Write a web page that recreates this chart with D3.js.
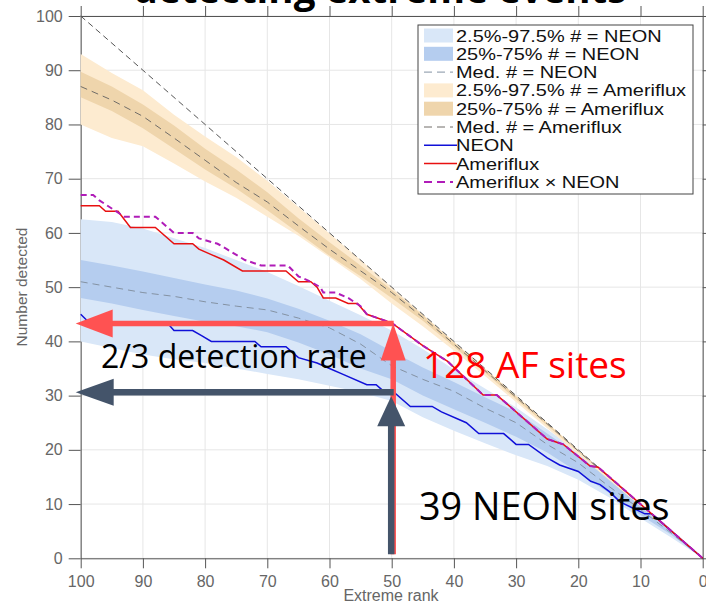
<!DOCTYPE html>
<html>
<head>
<meta charset="utf-8">
<script src="https://cdn.jsdelivr.net/npm/d3@7"></script>
<style>
	body { margin: 0; background: #fff; }
	svg { display: block; }
	.axis path, .axis line { stroke: #555; }
	.axis text { fill: #666; font-family: "Liberation Sans", Arial, sans-serif; font-size: 16px; }
	.grid line { stroke: #e6e6e6; }
	.legend text { font-family: "Liberation Sans", Arial, sans-serif; font-size: 16.5px; fill: #111; }
	.note { font-family: "Open Sans", sans-serif; }
</style>
</head>
<body>
<svg id="chart" width="706" height="603"></svg>
<script>
var xTicks = [100, 90, 80, 70, 60, 50, 40, 30, 20, 10, 0];
var yTicks = [0, 10, 20, 30, 40, 50, 60, 70, 80, 90, 100];

// percentile bands, sampled every 5 ranks
var bandRanks = [100, 95, 90, 85, 80, 75, 70, 65, 60, 55, 50, 45, 40, 35, 30, 25, 20, 15, 10, 5, 0];
var neonLo95 = [40, 38.8, 37.6, 36.7, 36, 35, 34, 33, 31.8, 30.6, 29, 26, 23.5, 21.2, 19, 17, 14.5, 11.2, 7.4, 3.8, 0];
var neonHi95 = [62.5, 62, 60.8, 59, 57.2, 55, 52.8, 50.2, 47.5, 44.8, 42, 38.6, 34.8, 31.3, 27.8, 23.8, 19.6, 14.9, 9.95, 5, 0];
var neonLo50 = [48, 47, 45.8, 44.7, 43.6, 42.8, 41.7, 39.8, 37.6, 35, 33, 30, 27.5, 25, 22.4, 19.5, 15.8, 12, 8, 4.3, 0];
var neonHi50 = [55, 54, 52.9, 51.7, 50.5, 49.4, 47.9, 46, 43.8, 41.3, 38.2, 35.2, 32.5, 29.7, 27, 23, 19, 14.6, 9.7, 4.9, 0];
var neonMed = [51, 50, 49, 48.3, 47.3, 46.5, 45.8, 44.3, 42.5, 39.5, 35.5, 33, 30.8, 27.7, 25, 21, 17.6, 13.2, 9, 4.6, 0];
var afLo95 = [80, 77.5, 76, 72.8, 69.5, 66.5, 63, 59.5, 55.5, 51.5, 47, 42.8, 38.3, 33.6, 28.8, 24, 19.2, 14.4, 9.6, 4.8, 0];
var afHi95 = [93, 89.5, 86.3, 81.8, 77.8, 74, 69.6, 64.8, 59.9, 55, 50, 45, 40, 35, 30, 25, 20, 15, 10, 5, 0];
var afLo50 = [85, 82.5, 79.3, 75.5, 71.7, 68.2, 64.2, 60, 55.8, 52, 48, 43.8, 39, 34.2, 29.3, 24.5, 19.6, 14.7, 9.8, 4.9, 0];
var afHi50 = [89.7, 87, 83.7, 79.8, 75.5, 71.7, 67.5, 62.7, 58.3, 54, 49.5, 44.8, 39.8, 34.9, 29.9, 24.9, 19.9, 14.95, 10, 5, 0];
var afMed = [87, 84.5, 81.5, 77.5, 73.4, 69.3, 65.7, 61.3, 57, 53, 49, 44.4, 39.5, 34.6, 29.7, 24.8, 19.8, 14.9, 9.9, 4.95, 0];

// observed detections
var neonRank = [100, 98.5, 86, 85, 82, 80.5, 79, 72, 71, 67, 65, 62, 60, 58, 54, 52.5, 51.5, 50, 47, 43.5, 42, 38, 36, 32, 30, 28, 25, 23, 20, 18, 16.5, 15, 13.3, 9.3, 8.2, 0];
var neonHits = [45, 43.3, 43.3, 42, 42, 41, 40, 40, 39, 39, 37, 36, 35, 34, 32, 32, 31, 31, 28, 28, 27, 25, 23, 23, 21, 21, 18.5, 17.2, 16, 14.2, 13.6, 12.3, 10.4, 8.2, 8.2, 0];
var afRank = [100, 97, 96, 94, 92, 88, 85, 82, 81, 79, 77, 74, 67, 65, 63, 62, 61, 59, 57, 55.5, 54, 51.5, 50, 45, 41, 35.3, 33.1, 25, 22.4, 18.1, 16.8, 0];
var afHits = [65, 65, 64, 64, 61, 61, 58, 58, 57, 56, 55, 53, 53, 51, 51, 50, 48, 48, 47, 47, 45, 44, 43.4, 39.2, 36.3, 30.1, 30.1, 22, 21, 17, 16.8, 0];
var crossRank = [100, 98, 97, 93, 88, 85, 82, 81, 78, 76.5, 73.6, 71, 66.7, 65, 63, 61.5, 61, 59, 57, 55, 54, 51.5, 50, 45, 41, 35.3, 33.1, 25, 22.4, 18.1, 16.8, 0];
var crossHits = [67, 67, 66, 63, 63, 60, 60, 59, 58, 57, 55, 54, 54, 52, 51, 50, 49, 49, 48, 46.5, 45, 44, 43.4, 39.2, 36.3, 30.1, 30.1, 22, 21, 17, 16.8, 0];

var refRank = [100, 0];
var refHits = [100, 0];

// 2/3 detection rate markers at rank 50
var arrowRank = 50;
var afLevel = 43.3;
var neonLevel = 30.6;

var legendLabels = ["2.5%-97.5% # = NEON", "25%-75% # = NEON", "Med. # = NEON",
	"2.5%-97.5% # = Ameriflux", "25%-75% # = Ameriflux", "Med. # = Ameriflux",
	"NEON", "Ameriflux", "Ameriflux \u00d7 NEON"];

(function () {
	var svg = d3.select("#chart");

	var x = d3.scaleLinear().domain([100, 0]).range([80.7, 702.7]);
	var y = d3.scaleLinear().domain([0, 100]).range([558.3, 16]);

	var pal = {
		neonLight: "#d9e7f8", neonDark: "#b5cdef", neonMed: "#8492a3",
		afLight: "#fdebd0", afDark: "#efd5ac", afMed: "#716d68",
		neon: "#1010d8", af: "#e81010", cross: "#b01cb8"
	};

	// grid
	var grid = svg.append("g").attr("class", "grid");
	grid.selectAll(".gx").data(xTicks).enter().append("line")
		.attr("x1", d => x(d)).attr("x2", d => x(d))
		.attr("y1", y(0)).attr("y2", y(100));
	grid.selectAll(".gy").data(yTicks).enter().append("line")
		.attr("x1", x(100)).attr("x2", x(0))
		.attr("y1", d => y(d)).attr("y2", d => y(d));

	// axes
	svg.append("g").attr("class", "axis")
		.attr("transform", "translate(0," + y(0) + ")")
		.call(d3.axisBottom(x).tickValues(xTicks).tickSizeInner(10).tickSizeOuter(0).tickPadding(7));
	svg.append("g").attr("class", "axis")
		.attr("transform", "translate(" + x(100) + ",0)")
		.call(d3.axisLeft(y).tickValues(yTicks).tickSizeInner(12).tickSizeOuter(0).tickPadding(6));
	svg.append("g").attr("class", "axis")
		.attr("transform", "translate(0," + y(100) + ")")
		.call(d3.axisTop(x).tickValues(xTicks).tickSizeInner(10).tickSizeOuter(0).tickFormat(""));
	svg.append("g").attr("class", "axis")
		.attr("transform", "translate(" + x(0) + ",0)")
		.call(d3.axisRight(y).tickValues(yTicks).tickSizeInner(10).tickSizeOuter(0).tickFormat(""));

	svg.append("text")
		.attr("x", 391).attr("y", 601)
		.attr("text-anchor", "middle")
		.style("font-family", "Liberation Sans, Arial, sans-serif")
		.style("font-size", "16px").attr("fill", "#666")
		.text("Extreme rank");
	svg.append("text")
		.attr("transform", "translate(27,287) rotate(-90)")
		.attr("text-anchor", "middle")
		.style("font-family", "Liberation Sans, Arial, sans-serif")
		.style("font-size", "15.5px").attr("fill", "#666")
		.text("Number detected");

	// bands
	var band = function (lo, hi) {
		return d3.area()
			.x(function (d, i) { return x(bandRanks[i]); })
			.y0(function (d, i) { return y(lo[i]); })
			.y1(function (d, i) { return y(hi[i]); })(bandRanks);
	};
	var line = function (rx, ry) {
		return d3.line()
			.x(function (d, i) { return x(rx[i]); })
			.y(function (d, i) { return y(ry[i]); })(rx);
	};

	svg.append("path").attr("d", band(neonLo95, neonHi95)).attr("fill", pal.neonLight);
	svg.append("path").attr("d", band(neonLo50, neonHi50)).attr("fill", pal.neonDark);
	svg.append("path").attr("d", line(bandRanks, neonMed))
		.attr("fill", "none").attr("stroke", pal.neonMed).attr("stroke-width", 1).attr("stroke-dasharray", "7,5");
	svg.append("path").attr("d", band(afLo95, afHi95)).attr("fill", pal.afLight);
	svg.append("path").attr("d", band(afLo50, afHi50)).attr("fill", pal.afDark);
	svg.append("path").attr("d", line(bandRanks, afMed))
		.attr("fill", "none").attr("stroke", pal.afMed).attr("stroke-width", 1).attr("stroke-dasharray", "7,5");

	// 1:1 reference
	svg.append("path").attr("d", line(refRank, refHits))
		.attr("fill", "none").attr("stroke", "#555").attr("stroke-width", 1).attr("stroke-dasharray", "6,4");

	svg.append("path").attr("d", line(neonRank, neonHits))
		.attr("fill", "none").attr("stroke", pal.neon).attr("stroke-width", 1.5);
	svg.append("path").attr("d", line(afRank, afHits))
		.attr("fill", "none").attr("stroke", pal.af).attr("stroke-width", 1.5);
	svg.append("path").attr("d", line(crossRank, crossHits))
		.attr("fill", "none").attr("stroke", pal.cross).attr("stroke-width", 2).attr("stroke-dasharray", "6,4");

	// legend
	var lg = svg.append("g").attr("class", "legend");
	lg.append("rect").attr("x", 418).attr("y", 25).attr("width", 275).attr("height", 169)
		.attr("fill", "#fff").attr("stroke", "#444").attr("stroke-width", 1);
	var swatch = [
		{ type: "rect", color: pal.neonLight }, { type: "rect", color: pal.neonDark },
		{ type: "dash", color: pal.neonMed, w: 1 }, { type: "rect", color: pal.afLight },
		{ type: "rect", color: pal.afDark }, { type: "dash", color: pal.afMed, w: 1 },
		{ type: "line", color: pal.neon, w: 1.5 }, { type: "line", color: pal.af, w: 1.5 },
		{ type: "dash", color: pal.cross, w: 2 }
	];
	legendLabels.forEach(function (lab, i) {
		var cy = 35.5 + i * 18.3;
		var s = swatch[i];
		if (s.type == "rect") {
			lg.append("rect").attr("x", 424).attr("y", cy - 7).attr("width", 29).attr("height", 14).attr("fill", s.color);
		} else {
			lg.append("line").attr("x1", 424).attr("x2", s.type == "line" ? 457 : 453)
				.attr("y1", cy).attr("y2", cy)
				.attr("stroke", s.color).attr("stroke-width", s.w)
				.attr("stroke-dasharray", s.type == "dash" ? "8,5" : null);
		}
		lg.append("text")
			.attr("transform", "translate(456," + (cy + 6) + ") scale(1.21,1)")
			.text(lab);
	});

	// annotation arrows
	var hArrow = function (level, color, lw, headLen, headHalf) {
		var yy = y(level), x0 = x(arrowRank) + 2, tip = x(100) - 5;
		svg.append("line").attr("x1", x0).attr("x2", tip + headLen - 2)
			.attr("y1", yy).attr("y2", yy).attr("stroke", color).attr("stroke-width", lw);
		svg.append("path").attr("fill", color)
			.attr("d", "M" + tip + "," + yy + "L" + (tip + headLen) + "," + (yy - headHalf) + "L" + (tip + headLen) + "," + (yy + headHalf) + "Z");
	};
	var vArrow = function (tipY, xx, color, lw, headLen, headHalf) {
		svg.append("line").attr("x1", xx).attr("x2", xx)
			.attr("y1", y(0) - 4).attr("y2", tipY + headLen - 2)
			.attr("stroke", color).attr("stroke-width", lw);
		svg.append("path").attr("fill", color)
			.attr("d", "M" + xx + "," + tipY + "L" + (xx - headHalf) + "," + (tipY + headLen) + "L" + (xx + headHalf) + "," + (tipY + headLen) + "Z");
	};
	hArrow(afLevel, "#ff5252", 5.5, 37, 14);
	vArrow(y(afLevel), x(arrowRank) + 1.5, "#ff5252", 5.5, 37, 12.5);
	hArrow(neonLevel, "#44546a", 6.5, 38, 13.5);
	vArrow(y(neonLevel) + 4, x(arrowRank) - 0.5, "#44546a", 6.5, 30, 14);

	// text
	svg.append("text").attr("class", "note")
		.attr("x", 101).attr("y", 368).style("font-size", "32px").attr("fill", "#000")
		.text("2/3 detection rate");
	svg.append("text").attr("class", "note")
		.attr("x", 423).attr("y", 378).style("font-size", "37px").attr("fill", "#ff0000")
		.text("128 AF sites");
	svg.append("text").attr("class", "note")
		.attr("x", 419).attr("y", 520).style("font-size", "37.8px").attr("fill", "#000")
		.text("39 NEON sites");
	svg.append("text").attr("class", "note")
		.attr("x", 380).attr("y", 2.5).attr("text-anchor", "middle")
		.style("font-size", "38.5px").style("font-weight", "bold").attr("fill", "#000")
		.text("detecting extreme events");
}) ();
</script>
</body>
</html>
